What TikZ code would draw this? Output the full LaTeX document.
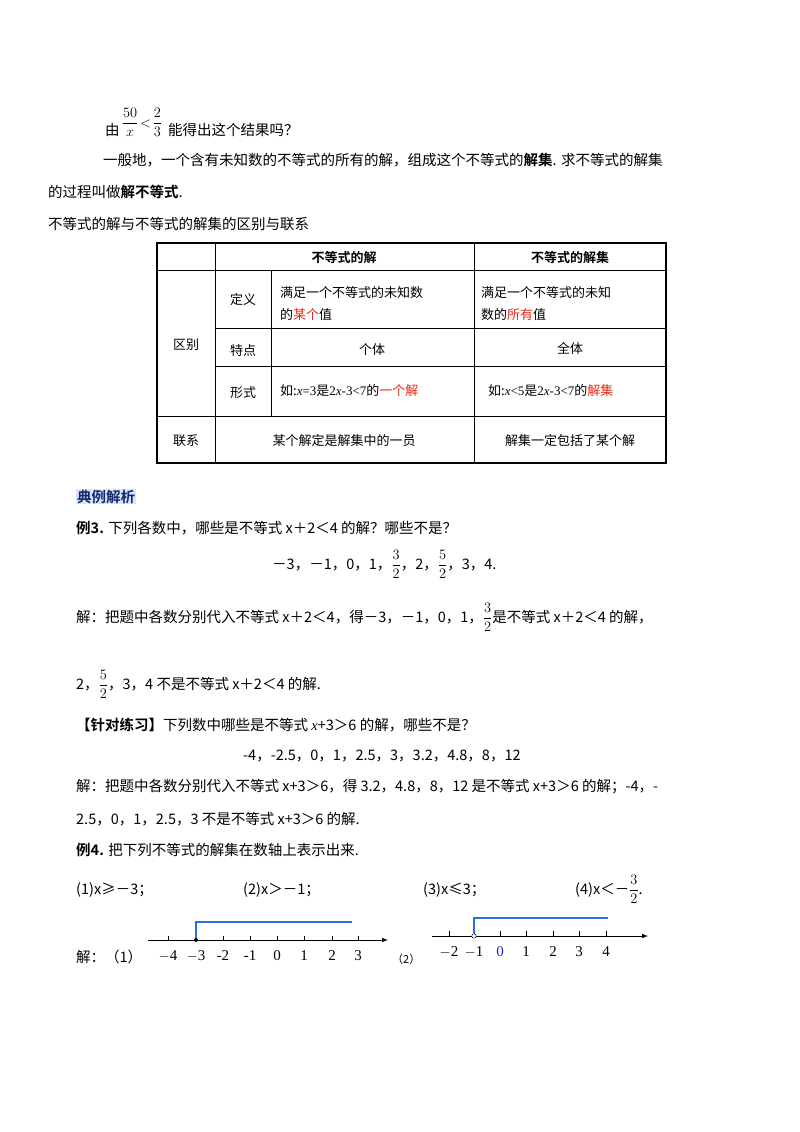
\documentclass[tikz,border=0pt]{standalone}
\usepackage{fontspec}
\setmainfont{Noto Sans CJK SC}[BoldFont={Noto Sans CJK SC Bold}]
\newfontfamily\lat{Liberation Serif}
\begin{document}
\begin{tikzpicture}[x=1pt,y=-1pt,
  t/.style={anchor=base west,inner sep=0pt,font=\fontsize{14.5}{17}\selectfont},
  tc/.style={anchor=base,inner sep=0pt,font=\fontsize{13}{15}\selectfont},
  tl/.style={anchor=base west,inner sep=0pt,font=\fontsize{13}{15}\selectfont},
  lab/.style={anchor=base,inner sep=0pt,font=\lat\fontsize{15}{17}\selectfont},
  axis/.style={line width=1pt,-latex},
  blu/.style={draw={rgb,255:red,40;green,110;blue,220},line width=1.2pt}]
\useasboundingbox (0,0) rectangle (800,1132);
\definecolor{rd}{RGB}{230,40,20}
% top
\node[t] (l0) at (105,135) {由};
\node[anchor=base,inner sep=0pt,font=\fontsize{14}{16}\selectfont] (fr) at (142,127) {$\displaystyle\frac{50}{x}\!<\!\frac{2}{3}$};
\node[t] (l0b) at (168,135) {能得出这个结果吗？};
\node[t] (l1) at (103,165) {一般地，一个含有未知数的不等式的所有的解，组成这个不等式的\textbf{解集}. 求不等式的解集};
\node[t] (l2) at (48,197) {的过程叫做\textbf{解不等式}.};
\node[t] (l3) at (48,229) {不等式的解与不等式的解集的区别与联系};
% table
\draw[line width=1.2pt] (157,243) rectangle (666,463);
\draw (157,270) -- (666,270);
\draw (215,243) -- (215,463);
\draw (474,243) -- (474,463);
\draw (271,270) -- (271,416);
\draw (215,328) -- (666,328);
\draw (215,366) -- (666,366);
\draw (157,416) -- (666,416);
\node[tc,font=\bfseries\fontsize{13}{15}\selectfont] (h1) at (344,262) {不等式的解};
\node[tc,font=\bfseries\fontsize{13}{15}\selectfont] (h2) at (570,262) {不等式的解集};
\node[tc] (qb) at (186,349) {区别};
\node[tc] (dy) at (243,304) {定义};
\node[tc] (td) at (243,355) {特点};
\node[tc] (xs) at (243,397) {形式};
\node[tc] (lx) at (186,445) {联系};
\node[tl] (d1a) at (280,297) {满足一个不等式的未知数};
\node[tl] (d1b) at (280,319) {的\textcolor{rd}{某个}值};
\node[tl] (d2a) at (481,297) {满足一个不等式的未知};
\node[tl] (d2b) at (481,319) {数的\textcolor{rd}{所有}值};
\node[tc] (g1) at (372,354) {个体};
\node[tc] (g2) at (570,353) {全体};
\node[tl] (f1) at (280,395) {如:{\lat\itshape x}{\lat =3}是{\lat 2\textit{x}-3<7}的\textcolor{rd}{一个解}};
\node[tl] (f2) at (488,395) {如:{\lat\itshape x}{\lat <5}是{\lat 2\textit{x}-3<7}的\textcolor{rd}{解集}};
\node[tc] (r1) at (344,445) {某个解定是解集中的一员};
\node[tc] (r2) at (570,445) {解集一定包括了某个解};
% example
\node[t,fill={rgb,255:red,215;green,230;blue,250},inner sep=1pt,text={rgb,255:red,20;green,40;blue,110}] (dl) at (76,502) {\textbf{典例解析}};
\node[t] (e3) at (76,533) {\textbf{例3.} 下列各数中，哪些是不等式 x＋2＜4 的解？哪些不是？};
\node[t] (n3) at (272,569) {－3，－1，0，1，$\displaystyle\frac32$，2，$\displaystyle\frac52$，3，4.};
\node[t] (s3) at (76,622) {解：把题中各数分别代入不等式 x＋2＜4，得－3，－1，0，1，$\displaystyle\frac32$是不等式 x＋2＜4 的解，};
\node[t] (s3b) at (76,689) {2，$\displaystyle\frac52$，3，4 不是不等式 x＋2＜4 的解.};
\node[t] (pr) at (76,730) {\textbf{【针对练习】}下列数中哪些是不等式 {\lat\itshape x}+3＞6 的解，哪些不是？};
\node[t] (pn) at (243,760) {-4，-2.5，0，1，2.5，3，3.2，4.8，8，12};
\node[t] (ps1) at (76,791) {解：把题中各数分别代入不等式 x+3＞6，得 3.2，4.8，8，12 是不等式 x+3＞6 的解；-4，-};
\node[t] (ps2) at (76,824) {2.5，0，1，2.5，3 不是不等式 x+3＞6 的解.};
\node[t] (e4) at (76,855) {\textbf{例4.} 把下列不等式的解集在数轴上表示出来.};
\node[t] (q1) at (76,894) {(1)x≥－3；};
\node[t] (q2) at (243,894) {(2)x＞－1；};
\node[t] (q3) at (423,894) {(3)x≤3；};
\node[t] (q4) at (575,894) {(4)x＜－$\displaystyle\frac32$.};
\node[t] (a1) at (76,962) {解：（1）};
\node[t,font=\fontsize{11}{13}\selectfont] (a2) at (392,963) {（2）};
% number line 1
\coordinate (s1) at (148,940); \coordinate (e1) at (388,940);
\draw[axis] (s1) -- (e1);
\foreach \v/\x in {$-$4/168,$-$3/196,-2/223,-1/250,0/277,1/304,2/332,3/358}{
  \draw (\x,940) -- (\x,936);
  \node[lab] at (\x,960) {\v};}
\draw[blu] (196,940) -- (196,922) -- (352,922);
\fill (196,940) circle (2pt);
% number line 2
\coordinate (s2) at (432,936); \coordinate (e2) at (648,936);
\draw[axis] (s2) -- (e2);
\foreach \v/\x in {-2/449,-1/474,0/500,1/526,2/553,3/579,4/606}{
  \draw (\x,936) -- (\x,931);}
\foreach \v/\x in {$-$2/449,$-$1/474,1/526,2/553,3/579,4/606}{\node[lab] at (\x,956) {\v};}
\node[lab,text={rgb,255:red,30;green,40;blue,200}] at (500,956) {0};
\draw[blu] (474,933) -- (474,918) -- (608,918);
\draw[fill=white] (474,936) circle (2.2pt);
\end{tikzpicture}
\end{document}
